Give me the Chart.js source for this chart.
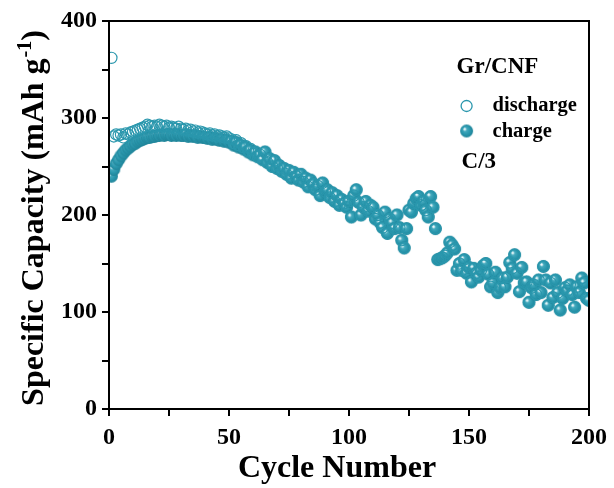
<!DOCTYPE html>
<html lang="en">
<head>
    <meta charset="UTF-8">
    <title>Gr/CNF cycling</title>
    <script src="https://cdn.jsdelivr.net/npm/chart.js"></script>
    <style>
        html, body { margin: 0; padding: 0; background: #fff; }
        #wrap { width: 614px; height: 488px; }
    </style>
</head>
<body>
    <div id="wrap"><canvas id="capChart" width="614" height="488"></canvas></div>

    <script>
        // charge capacity, cycles 1..200 (mAh/g)
        const chargeCap = [
            240, 247, 253, 257, 261, 264, 267, 269, 271, 273,
            274, 276, 277, 278, 279, 280, 280, 281, 281, 282,
            282, 283, 282, 283, 283, 282, 283, 282, 283, 282,
            282, 283, 281, 282, 281, 282, 280, 281, 280, 280,
            279, 280, 278, 279, 278, 277, 278, 276, 277, 275,
            276, 272, 275, 270, 272, 268, 270, 265, 267, 262,
            265, 260, 262, 257, 265, 254, 258, 250, 256, 248,
            251, 245, 248, 242, 246, 238, 244, 240, 236, 242,
            234, 238, 229, 236, 232, 226, 230, 220, 233, 224,
            226, 218, 223, 214, 220, 210, 216, 212, 208, 214,
            198, 220, 226, 213, 200, 208, 214, 204, 210, 208,
            196, 200, 192, 187, 203, 181, 196, 192, 186, 200,
            187, 174, 166, 186, 205, 203, 212, 217, 219, 210,
            214, 205, 198, 219, 208, 186, 154, 155, 156, 158,
            161, 172, 169, 165, 143, 150, 143, 154, 140, 146,
            131, 145, 140, 136, 143, 148, 150, 139, 126, 130,
            141, 120, 125, 135, 126, 136, 151, 145, 159, 140,
            121, 146, 130, 131, 110, 125, 128, 118, 133, 120,
            147, 133, 107, 130, 115, 133, 120, 102, 114, 125,
            122, 128, 118, 105, 126, 120, 135, 130, 114, 112
        ];

        // discharge capacity, cycles 1..200 (mAh/g)
        const dischargeCap = [
            362, 281, 283, 282, 283, 280, 284, 283, 285, 286,
            287, 288, 289, 290, 291, 293, 292, 291, 292, 291,
            293, 292, 291, 292, 290, 291, 290, 289, 291, 289,
            288, 289, 287, 288, 286, 287, 285, 286, 285, 284,
            283, 284, 282, 283, 281, 282, 281, 280, 281, 279,
            278, 274, 277, 272, 274, 270, 271, 266, 268, 263,
            265, 260, 262, 257, 265, 254, 258, 250, 256, 248,
            251, 245, 248, 242, 246, 238, 244, 240, 236, 242,
            234, 238, 229, 236, 232, 226, 230, 220, 233, 224,
            226, 218, 223, 214, 220, 210, 216, 212, 208, 214,
            198, 220, 226, 213, 200, 208, 214, 204, 210, 208,
            196, 200, 192, 187, 203, 181, 196, 192, 186, 200,
            187, 174, 166, 186, 205, 203, 212, 217, 219, 210,
            214, 205, 198, 219, 208, 186, 154, 155, 156, 158,
            161, 172, 169, 165, 143, 150, 143, 154, 140, 146,
            131, 145, 140, 136, 143, 148, 150, 139, 126, 130,
            141, 120, 125, 135, 126, 136, 151, 145, 159, 140,
            121, 146, 130, 131, 110, 125, 128, 118, 133, 120,
            147, 133, 107, 130, 115, 133, 120, 102, 114, 125,
            122, 128, 118, 105, 126, 120, 135, 130, 114, 112
        ];

        const cycles = chargeCap.map((v, i) => i + 1);

        const xTicks = [0, 50, 100, 150, 200];
        const yTicks = [0, 100, 200, 300, 400];

        const teal = "#2a97ad";
        const serif = "'Liberation Serif', 'Times New Roman', serif";

        // shaded ball for the charge markers: solid teal with a small shine
        function makeBall(r) {
            const c = document.createElement("canvas");
            c.width = c.height = Math.ceil(r * 2) + 2;
            const g = c.getContext("2d");
            const m = c.width / 2;
            const grad = g.createRadialGradient(m - r * 0.35, m - r * 0.35, 0, m, m, r);
            grad.addColorStop(0, "#ffffff");
            grad.addColorStop(0.12, "#e6f6f9");
            grad.addColorStop(0.3, "#44a9bd");
            grad.addColorStop(0.65, "#2997ad");
            grad.addColorStop(1, "#208499");
            g.fillStyle = grad;
            g.beginPath();
            g.arc(m, m, r, 0, Math.PI * 2);
            g.fill();
            return c;
        }
        const ball = makeBall(6.5);

        const framePlugin = {
            id: "frame",
            afterDatasetsDraw(chart) {
                const { ctx, chartArea: a } = chart;
                ctx.save();
                ctx.strokeStyle = "#000";
                ctx.lineWidth = 2;
                ctx.strokeRect(a.left, a.top, a.right - a.left, a.bottom - a.top);

                // legend box inside the plot
                const lx = a.left + (a.right - a.left) * 0.745;
                const ty = a.top;
                ctx.fillStyle = "#000";
                ctx.textBaseline = "alphabetic";
                ctx.font = "bold 23px " + serif;
                ctx.fillText("Gr/CNF", lx - 10, ty + 52);
                ctx.font = "bold 20.5px " + serif;
                ctx.fillText("discharge", lx + 26, ty + 90);
                ctx.fillText("charge", lx + 26, ty + 116);
                ctx.font = "bold 23px " + serif;
                ctx.fillText("C/3", lx - 5, ty + 147);

                ctx.strokeStyle = teal;
                ctx.lineWidth = 1.3;
                ctx.beginPath();
                ctx.arc(lx, ty + 85, 5.5, 0, Math.PI * 2);
                ctx.stroke();
                ctx.drawImage(ball, lx - ball.width / 2, ty + 110 - ball.height / 2);
                ctx.restore();
            },
            afterDraw(chart) {
                const { ctx, chartArea: a } = chart;
                ctx.save();
                ctx.fillStyle = "#000";
                ctx.textBaseline = "alphabetic";

                // x title
                ctx.font = "bold 32px " + serif;
                ctx.textAlign = "center";
                ctx.fillText("Cycle Number", (a.left + a.right) / 2 - 12, 477);

                // y title with superscript
                const main = "Specific Capacity (mAh g";
                const sup = "-1";
                ctx.textAlign = "left";
                ctx.font = "bold 32px " + serif;
                const w1 = ctx.measureText(main).width;
                const w3 = ctx.measureText(")").width;
                ctx.font = "bold 20px " + serif;
                const w2 = ctx.measureText(sup).width;
                const total = w1 + w2 + w3 + 1;
                ctx.translate(43, (a.top + a.bottom) / 2 + 3);
                ctx.rotate(-Math.PI / 2);
                let x0 = -total / 2;
                ctx.font = "bold 32px " + serif;
                ctx.fillText(main, x0, 0);
                ctx.font = "bold 20px " + serif;
                ctx.fillText(sup, x0 + w1 + 1, -12);
                ctx.font = "bold 32px " + serif;
                ctx.fillText(")", x0 + w1 + w2 + 1, 0);
                ctx.restore();
            }
        };

        new Chart(document.getElementById("capChart").getContext("2d"), {
            type: "scatter",
            data: {
                datasets: [{
                    label: "discharge",
                    data: cycles.map((c, i) => ({ x: c, y: dischargeCap[i] })),
                    pointStyle: "circle",
                    pointRadius: 5.6,
                    borderColor: teal,
                    borderWidth: 1.2,
                    backgroundColor: "rgba(255,255,255,0)"
                }, {
                    label: "charge",
                    data: cycles.map((c, i) => ({ x: c, y: chargeCap[i] })),
                    pointStyle: ball,
                    pointRadius: 6
                }]
            },
            options: {
                responsive: false,
                animation: false,
                events: [],
                layout: { padding: { top: 21, right: 25, left: 0, bottom: 0 } },
                plugins: { legend: { display: false }, tooltip: { enabled: false } },
                scales: {
                    x: {
                        type: "linear",
                        min: 0,
                        max: 200,
                        afterFit: s => { s.height = 79; },
                        ticks: {
                            stepSize: 25,
                            maxRotation: 0,
                            padding: 7,
                            color: "#000",
                            font: { family: serif, size: 24, weight: "bold" },
                            callback: v => xTicks.includes(v) ? v : ""
                        },
                        grid: { drawOnChartArea: false, drawTicks: true, tickLength: 7, color: "#000", lineWidth: 2 },
                        border: { display: true, color: "#000", width: 2 },
                        title: { display: false }
                    },
                    y: {
                        min: 0,
                        max: 400,
                        afterFit: s => { s.width = 109; },
                        ticks: {
                            stepSize: 50,
                            padding: 5,
                            color: "#000",
                            font: { family: serif, size: 24, weight: "bold" },
                            callback: v => yTicks.includes(v) ? v : ""
                        },
                        grid: { drawOnChartArea: false, drawTicks: true, tickLength: 7, color: "#000", lineWidth: 2 },
                        border: { display: true, color: "#000", width: 2 },
                        title: { display: false }
                    }
                }
            },
            plugins: [framePlugin]
        });
    </script>
</body>
</html>
